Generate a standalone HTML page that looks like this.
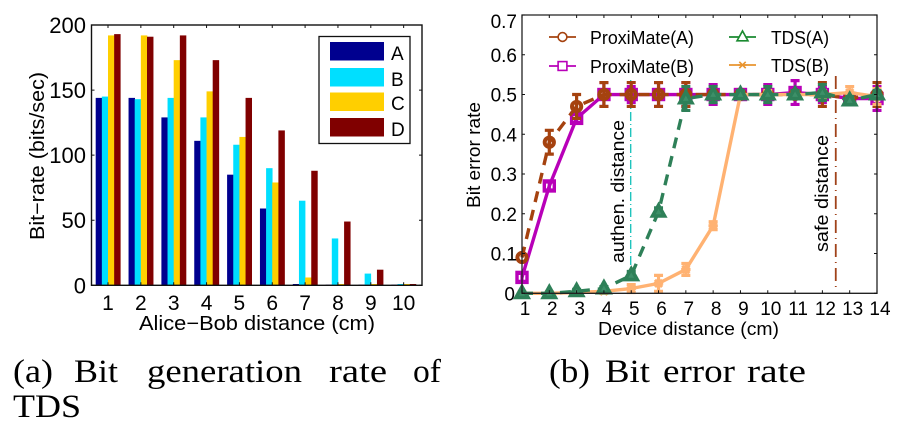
<!DOCTYPE html>
<html lang="en">
<head>
<meta charset="utf-8">
<title>Bit generation rate and bit error rate charts</title>
<style>
html,body{margin:0;padding:0;background:#fff;width:907px;height:426px;overflow:hidden}
svg{display:block}
text{font-family:"Liberation Sans",sans-serif;fill:#000}
.cap{font-family:"Liberation Serif",serif;font-size:33px;fill:#000}
</style>
</head>
<body>
<svg id="fig" width="907" height="426" viewBox="0 0 907 426" xmlns="http://www.w3.org/2000/svg">
  <g id="chartA"></g>
  <g id="chartB"></g>
  <g>
    <text class="cap" x="13" y="382" textLength="40" lengthAdjust="spacingAndGlyphs">(a)</text>
    <text class="cap" x="74" y="382" textLength="44" lengthAdjust="spacingAndGlyphs">Bit</text>
    <text class="cap" x="147" y="382" textLength="155" lengthAdjust="spacingAndGlyphs">generation</text>
    <text class="cap" x="329" y="382" textLength="58" lengthAdjust="spacingAndGlyphs">rate</text>
    <text class="cap" x="413" y="382" textLength="28" lengthAdjust="spacingAndGlyphs">of</text>
    <text class="cap" x="13" y="417" textLength="68" lengthAdjust="spacingAndGlyphs">TDS</text>
  </g>
  <g>
    <text class="cap" x="549" y="382" textLength="41" lengthAdjust="spacingAndGlyphs">(b)</text>
    <text class="cap" x="605" y="382" textLength="45" lengthAdjust="spacingAndGlyphs">Bit</text>
    <text class="cap" x="663" y="382" textLength="72" lengthAdjust="spacingAndGlyphs">error</text>
    <text class="cap" x="747" y="382" textLength="59" lengthAdjust="spacingAndGlyphs">rate</text>
  </g>
</svg>
<script>
// ---- Chart (a) data ----
const barCategories = [1, 2, 3, 4, 5, 6, 7, 8, 9, 10];
const barTicks = [0, 50, 100, 150, 200];
const barSeriesNames = ['A', 'B', 'C', 'D'];
const barA = [144, 144, 129, 111, 85, 59, 1, 0.5, 0.5, 0.5];
const barB = [145, 143, 144, 129, 108, 90, 65, 36, 9, 1];
const barC = [192, 192, 173, 149, 114, 79, 6, 1, 1, 1];
const barD = [193, 191, 192, 173, 144, 119, 88, 49, 12, 1];

// ---- Chart (b) data ----
const lineCategories = [1, 2, 3, 4, 5, 6, 7, 8, 9, 10, 11, 12, 13, 14];
const lineTicks = [0, 0.1, 0.2, 0.3, 0.4, 0.5, 0.6, 0.7];
const proxiA = [0.09, 0.38, 0.47, 0.50, 0.50, 0.50, 0.50, 0.50, 0.50, 0.50, 0.50, 0.50, 0.49, 0.50];
const proxiAErr = [0, 0.03, 0.03, 0.03, 0.03, 0.03, 0.03, 0.01, 0.01, 0.01, 0.01, 0.03, 0.01, 0.03];
const proxiB = [0.04, 0.27, 0.44, 0.50, 0.50, 0.50, 0.50, 0.50, 0.50, 0.50, 0.505, 0.50, 0.49, 0.49];
const proxiBErr = [0.01, 0.01, 0.01, 0.03, 0.02, 0.03, 0.03, 0.025, 0.01, 0.025, 0.03, 0.02, 0.01, 0.03];
const tdsA = [0, 0, 0.005, 0.012, 0.045, 0.205, 0.49, 0.50, 0.50, 0.50, 0.50, 0.505, 0.485, 0.50];
const tdsAErr = [0, 0, 0.005, 0.005, 0.01, 0.01, 0.03, 0.02, 0.01, 0.02, 0.01, 0.02, 0.01, 0.01];
const tdsB = [0, 0, 0.002, 0.005, 0.012, 0.025, 0.06, 0.17, 0.50, 0.50, 0.50, 0.50, 0.505, 0.495];
const tdsBErr = [0, 0, 0.005, 0.005, 0.01, 0.02, 0.015, 0.01, 0.01, 0.01, 0.01, 0.01, 0.015, 0.02];
const authenDistance = 4.98;
const safeDistance = 12.49;

const NS = 'http://www.w3.org/2000/svg';
function mk(parent, tag, attrs, txt) {
  const el = document.createElementNS(NS, tag);
  for (const k in attrs) el.setAttribute(k, attrs[k]);
  if (txt !== undefined) el.textContent = txt;
  parent.appendChild(el);
  return el;
}

/* ---------- chart (a) ---------- */
(function () {
  const g = document.getElementById('chartA');
  const L = 91.5, R = 422, T = 25, B = 285.3;
  const xA = v => 108 + (v - 1) * 32.85;
  const yA = v => B - (v / 200) * (B - T);
  const colors = ['#00008f', '#00dfff', '#ffcf00', '#800000'];
  const series = [barA, barB, barC, barD];
  const bw = 6.15;

  series.forEach((vals, s) => {
    const grp = mk(g, 'g', {});
    
    
    vals.forEach((v, i) => {
      const x = xA(barCategories[i]) - 2 * bw + s * bw;
      const r = mk(grp, 'rect', { x: x, y: yA(v), width: bw + 0.3, height: B - yA(v), fill: colors[s] });
      
      
    });
  });

  const frame = mk(g, 'rect', { x: L, y: T, width: R - L, height: B - T, fill: 'none', stroke: '#111', 'stroke-width': 1.4 });
  
  

  barTicks.forEach(t => {
    const y = yA(t);
    mk(g, 'path', { d: `M${L} ${y}h3M${R} ${y}h-3`, stroke: '#111', 'stroke-width': 1 });
    const lb = mk(g, 'text', { x: 86, y: y + 8, 'text-anchor': 'end', 'font-size': 22 }, String(t));
    
    
  });
  barCategories.forEach(c => {
    const x = xA(c);
    mk(g, 'path', { d: `M${x} ${B}v-3M${x} ${T}v3`, stroke: '#111', 'stroke-width': 1 });
    const lb = mk(g, 'text', { x: x, y: 310, 'text-anchor': 'middle', 'font-size': 21 }, String(c));
    
    
  });

  const xt = mk(g, 'text', { x: 139, y: 330, 'font-size': 20, textLength: 236, lengthAdjust: 'spacingAndGlyphs' }, 'Alice\u2212Bob distance (cm)');
  
  
  const yt = mk(g, 'text', { x: 0, y: 0, 'font-size': 20, transform: 'translate(44 240) rotate(-90)', textLength: 168, lengthAdjust: 'spacingAndGlyphs' }, 'Bit\u2212rate (bits/sec)');
  
  

  const lg = mk(g, 'g', {});
  
  
  mk(lg, 'rect', { x: 319, y: 36.5, width: 91, height: 107, fill: '#fff', stroke: '#111', 'stroke-width': 1.3 });
  const swY = [42, 68, 92.5, 118];
  const lbY = [60, 86, 110, 136];
  barSeriesNames.forEach((n, i) => {
    const sw = mk(lg, 'rect', { x: 330, y: swY[i], width: 54, height: 18.5, fill: colors[i] });
    
    
    const t = mk(lg, 'text', { x: 391, y: lbY[i], 'font-size': 19 }, n);
    
    
  });
})();

/* ---------- chart (b) ---------- */
(function () {
  const g = document.getElementById('chartB');
  const L = 522, R = 877, T = 15, B = 293.3;
  const xB = v => L + (v - 1) * (R - L) / 13;
  const yB = v => B - (v / 0.7) * (B - T);

  function marker(parent, kind, x, y, color, sw, size, fill) {
    let m;
    if (kind === 'circle') {
      m = mk(parent, 'circle', { cx: x, cy: y, r: size, fill: fill || 'none', stroke: color, 'stroke-width': sw });
    } else if (kind === 'square') {
      m = mk(parent, 'rect', { x: x - size, y: y - size, width: size * 2, height: size * 2, fill: fill || 'none', stroke: color, 'stroke-width': sw });
    } else if (kind === 'triangle') {
      const s = size;
      m = mk(parent, 'path', { d: `M${x} ${y - s * 1.1}L${x + s} ${y + s * 0.7}L${x - s} ${y + s * 0.7}Z`, fill: fill || 'none', stroke: color, 'stroke-width': sw, 'stroke-linejoin': 'miter' });
    } else {
      const s = size;
      m = mk(parent, 'path', { d: `M${x - s} ${y - s}L${x + s} ${y + s}M${x - s} ${y + s}L${x + s} ${y - s}M${x - s * 1.3} ${y}H${x + s * 1.3}`, fill: 'none', stroke: color, 'stroke-width': sw });
    }
    
    
  }

  // reference lines
  const al = mk(g, 'line', { x1: xB(authenDistance), x2: xB(authenDistance), y1: 80, y2: B, stroke: '#1fc4bd', 'stroke-width': 1.4, 'stroke-dasharray': '9 3 1 3' });
  
  
  const sl = mk(g, 'line', { x1: xB(safeDistance), x2: xB(safeDistance), y1: 76, y2: 287, stroke: '#a0421a', 'stroke-width': 1.8, 'stroke-dasharray': '13 5 1 5' });
  
  

  function drawSeries(name, vals, errs, color, dash, kind, sw, size, cap, fill) {
    const grp = mk(g, 'g', {});
    
    
    const d = vals.map((v, i) => (i ? 'L' : 'M') + xB(lineCategories[i]) + ' ' + yB(v)).join('');
    const attrs = { d: d, fill: 'none', stroke: color, 'stroke-width': 3.4 };
    if (dash) attrs['stroke-dasharray'] = dash;
    const p = mk(grp, 'path', attrs);
    
    
    vals.forEach((v, i) => {
      const x = xB(lineCategories[i]);
      const y0 = yB(v - errs[i]), y1 = yB(v + errs[i]);
      if (errs[i] > 0) {
        mk(grp, 'path', { d: `M${x} ${y0}V${y1}M${x - cap} ${y0}h${cap * 2}M${x - cap} ${y1}h${cap * 2}`, fill: 'none', stroke: color, 'stroke-width': 3.2 });
      }
      marker(grp, kind, x, yB(v), color, sw, size, fill);
    });
  }

  drawSeries('series-proximate-b', proxiB, proxiBErr, '#b800b8', null, 'square', 3.4, 5, 4.5);
  drawSeries('series-proximate-a', proxiA, proxiAErr, '#a5420f', '11 8', 'circle', 4, 4.6, 4.5);
  drawSeries('series-tds-b', tdsB, tdsBErr, '#ffb272', null, 'star', 3, 3.6, 4.5);
  drawSeries('series-tds-a', tdsA, tdsAErr, '#2e8058', '11 8', 'triangle', 3.6, 6, 4.5, '#3d8f68');

  const frame = mk(g, 'path', { d: `M${L} ${T}H${R}V${B}H${L}Z`, fill: 'none', stroke: '#222', 'stroke-width': 1.3 });
  
  

  lineTicks.forEach(t => {
    const y = yB(t);
    mk(g, 'path', { d: `M${L} ${y}h3M${R} ${y}h-3`, stroke: '#111', 'stroke-width': 1 });
    const isTop = t === lineTicks[lineTicks.length - 1];
    const lb = mk(g, 'text', { x: t === 0 ? 515 : 517, y: isTop ? 28 : y + 7, 'text-anchor': 'end', 'font-size': 19 }, t === 0 ? '0' : t.toFixed(1));
    
    
  });
  lineCategories.forEach(c => {
    const x = xB(c);
    mk(g, 'path', { d: `M${x} ${B}v-3M${x} ${T}v3`, stroke: '#111', 'stroke-width': 1 });
    const lb = mk(g, 'text', { x: x + 3, y: 315, 'text-anchor': 'middle', 'font-size': 19 }, String(c));
    
    
  });

  const xt = mk(g, 'text', { x: 598, y: 335, 'font-size': 18, textLength: 181, lengthAdjust: 'spacingAndGlyphs' }, 'Device distance (cm)');
  
  
  const yt = mk(g, 'text', { x: 0, y: 0, 'font-size': 18, transform: 'translate(480 208) rotate(-90)', textLength: 106, lengthAdjust: 'spacingAndGlyphs' }, 'Bit error rate');
  
  
  const at = mk(g, 'text', { x: 0, y: 0, 'font-size': 18, transform: 'translate(624 263) rotate(-90)', textLength: 143, lengthAdjust: 'spacingAndGlyphs' }, 'authen. distance');
  
  
  const st = mk(g, 'text', { x: 0, y: 0, 'font-size': 18, transform: 'translate(828 252) rotate(-90)', textLength: 117, lengthAdjust: 'spacingAndGlyphs' }, 'safe distance');
  
  

  // legend
  const lg = mk(g, 'g', {});
  
  
  const entries = [
    { t: 'ProxiMate(A)', x: 549, y: 37, c: '#a5420f', k: 'circle', s: 4.4, tx: 590, tl: 104 },
    { t: 'ProxiMate(B)', x: 549, y: 66, c: '#b800b8', k: 'square', s: 4.4, tx: 590, tl: 104 },
    { t: 'TDS(A)', x: 729, y: 37, c: '#1a8a30', k: 'triangle', s: 5.5, tx: 771, tl: 58 },
    { t: 'TDS(B)', x: 729, y: 65, c: '#e8942f', k: 'star', s: 3.2, tx: 771, tl: 58 }
  ];
  entries.forEach(e => {
    const row = mk(lg, 'g', {});
    
    
    mk(row, 'line', { x1: e.x, x2: e.x + 27, y1: e.y, y2: e.y, stroke: e.c, 'stroke-width': 1.8 });
    const bg = mk(row, 'circle', { cx: e.x + 13.5, cy: e.y, r: e.k === 'star' ? 0 : 4, fill: '#fff' });
    
    
    marker(row, e.k, e.x + 13.5, e.y, e.c, 1.6, e.s);
    const t = mk(row, 'text', { x: e.tx, y: e.y + 7, 'font-size': 18, textLength: e.tl, lengthAdjust: 'spacingAndGlyphs' }, e.t);
    
    
  });
})();
</script>
</body>
</html>
